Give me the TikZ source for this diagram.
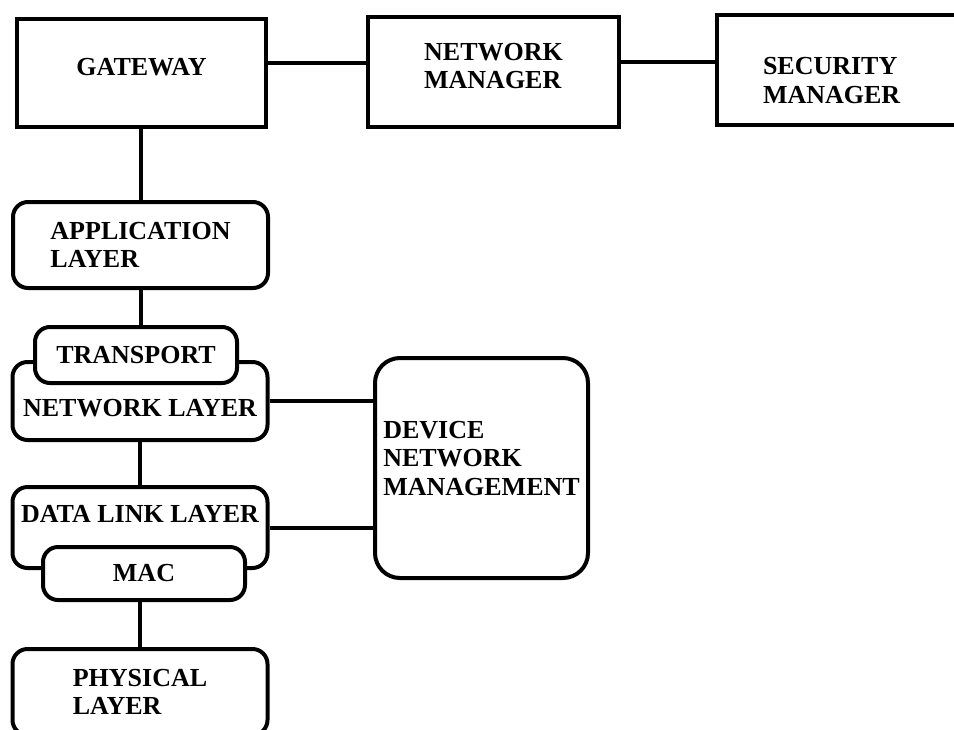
\documentclass[tikz,border=0pt]{standalone}
\usepackage{fontspec}
\setmainfont{Liberation Serif}
\tikzset{
  blk/.style={draw, line width=4pt, fill=white, inner sep=0pt, align=left,
    font=\bfseries\fontsize{26}{28.5}\selectfont},
  lyr/.style={blk, rounded corners=15pt},
  wire/.style={line width=4pt},
}
\begin{document}
\begin{tikzpicture}[x=1pt,y=-1pt]
\useasboundingbox (0,0) rectangle (954,729);
\clip (0,0) rectangle (954,729);
\node[blk, minimum width=249pt, minimum height=108pt, text depth=12pt](gateway) at (141.5,73){GATEWAY};
\node[blk, minimum width=251pt, minimum height=110pt, text depth=12pt](netmgr) at (493.5,72){NETWORK\\MANAGER};
\node[blk, text width=237pt, inner xsep=46pt, minimum height=110pt, text depth=8pt](secmgr) at (881.5,70){SECURITY\\MANAGER};
\node[lyr, minimum width=255pt, minimum height=86pt](app) at (140.5,245){APPLICATION\\LAYER};
\node[lyr, minimum width=255pt, minimum height=78pt, text height=31pt](network) at (140,401){NETWORK LAYER};
\node[lyr, minimum width=202pt, minimum height=56pt](transport) at (136,355){TRANSPORT};
\node[lyr, minimum width=255pt, minimum height=81pt, text depth=28pt](datalink) at (140,527.5){DATA LINK LAYER};
\node[lyr, minimum width=202pt, minimum height=53pt](mac) at (144,573.5){MAC};
\node[lyr, minimum width=255pt, minimum height=86pt](physical) at (140,692){PHYSICAL\\LAYER};
\node[blk, rounded corners=25pt, minimum width=213pt, minimum height=220pt, text depth=20pt](dnm) at (481.5,468){DEVICE\\NETWORK\\MANAGEMENT};
% links
\draw[wire] ([yshift=10pt]gateway.east) -- ([yshift=10pt]gateway.east -| netmgr.west);
\draw[wire] ([yshift=10pt]netmgr.east) -- ([yshift=10pt]netmgr.east -| secmgr.west);
\draw[wire] (app.north) -- (app.north |- gateway.south);
\draw[wire] (app.south) -- (app.south |- transport.north);
\draw[wire] (network.south) -- (network.south |- datalink.north);
\draw[wire] (physical.north) -- (physical.north |- mac.south);
\draw[wire] (network.east) -- (network.east -| dnm.west);
\draw[wire] (datalink.east) -- (datalink.east -| dnm.west);
\end{tikzpicture}
\end{document}
